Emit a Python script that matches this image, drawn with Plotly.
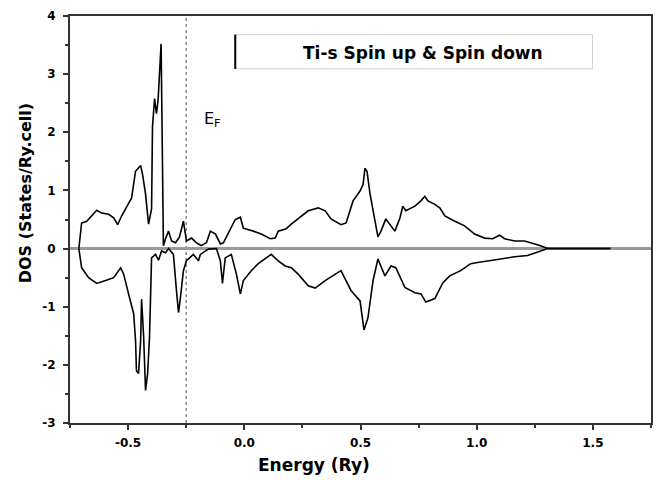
import plotly.graph_objects as go

# Ti-s partial density of states, spin up and spin down
energy_up = [-0.712, -0.700, -0.678, -0.635, -0.614, -0.584, -0.562, -0.545, -0.528, -0.498,
             -0.485, -0.468, -0.446, -0.438, -0.425, -0.412, -0.399, -0.395, -0.386, -0.378,
             -0.371, -0.358, -0.354, -0.348, -0.339, -0.326, -0.313, -0.296, -0.279, -0.262,
             -0.249, -0.227, -0.206, -0.185, -0.163, -0.146, -0.124, -0.103, -0.090, -0.056,
             -0.039, -0.017, -0.004, 0.039, 0.073, 0.112, 0.133, 0.146, 0.180, 0.202,
             0.232, 0.275, 0.318, 0.348, 0.373, 0.416, 0.438, 0.468, 0.498, 0.511,
             0.519, 0.528, 0.541, 0.562, 0.575, 0.588, 0.609, 0.631, 0.648, 0.670,
             0.682, 0.695, 0.734, 0.760, 0.777, 0.790, 0.820, 0.841, 0.863, 0.906,
             0.948, 0.991, 1.034, 1.069, 1.099, 1.120, 1.163, 1.206, 1.232, 1.275,
             1.305, 1.433, 1.575]
dos_up = [0.00, 0.44, 0.47, 0.66, 0.61, 0.59, 0.53, 0.41, 0.56, 0.76,
          0.87, 1.33, 1.43, 1.28, 0.94, 0.42, 0.68, 2.10, 2.58, 2.32,
          2.55, 3.52, 2.06, 0.05, 0.17, 0.30, 0.13, 0.10, 0.20, 0.47,
          0.13, 0.18, 0.10, 0.05, 0.10, 0.30, 0.25, 0.08, 0.10, 0.35,
          0.50, 0.54, 0.35, 0.30, 0.25, 0.17, 0.18, 0.30, 0.34, 0.42,
          0.51, 0.65, 0.70, 0.65, 0.51, 0.41, 0.44, 0.82, 0.99, 1.10,
          1.38, 1.33, 0.94, 0.47, 0.20, 0.30, 0.51, 0.39, 0.30, 0.53,
          0.73, 0.65, 0.73, 0.82, 0.90, 0.82, 0.76, 0.70, 0.56, 0.47,
          0.39, 0.25, 0.18, 0.17, 0.23, 0.17, 0.13, 0.13, 0.10, 0.05,
          0.00, 0.00, 0.00]

energy_dn = [-0.712, -0.700, -0.670, -0.635, -0.597, -0.562, -0.532, -0.519, -0.498, -0.476,
             -0.468, -0.464, -0.455, -0.446, -0.442, -0.433, -0.425, -0.416, -0.408, -0.399,
             -0.382, -0.369, -0.356, -0.339, -0.326, -0.305, -0.292, -0.283, -0.275, -0.262,
             -0.249, -0.219, -0.197, -0.189, -0.155, -0.120, -0.103, -0.094, -0.082, -0.056,
             -0.034, -0.017, -0.004, 0.030, 0.060, 0.116, 0.146, 0.176, 0.202, 0.232,
             0.275, 0.305, 0.348, 0.416, 0.459, 0.498, 0.515, 0.532, 0.554, 0.575,
             0.605, 0.631, 0.652, 0.691, 0.734, 0.760, 0.781, 0.820, 0.854, 0.884,
             0.931, 0.974, 1.004, 1.060, 1.103, 1.163, 1.219, 1.275, 1.305, 1.433,
             1.575]
dos_dn = [0.00, -0.33, -0.50, -0.60, -0.55, -0.50, -0.33, -0.44, -0.78, -1.12,
          -1.58, -2.10, -2.15, -1.58, -0.87, -1.53, -2.44, -2.15, -1.53, -0.16,
          -0.10, -0.20, -0.04, -0.07, 0.00, -0.10, -0.72, -1.10, -0.85, -0.38,
          -0.21, -0.10, -0.21, -0.10, -0.01, 0.00, -0.21, -0.60, -0.16, -0.10,
          -0.44, -0.78, -0.55, -0.38, -0.26, -0.10, -0.21, -0.30, -0.33, -0.44,
          -0.64, -0.68, -0.55, -0.38, -0.72, -0.90, -1.40, -1.19, -0.55, -0.18,
          -0.47, -0.30, -0.33, -0.67, -0.76, -0.78, -0.92, -0.86, -0.59, -0.47,
          -0.38, -0.26, -0.24, -0.21, -0.18, -0.14, -0.12, -0.04, 0.00, 0.00,
          0.00]

fermi_level = -0.25
x_range = [-0.75, 1.75]
y_range = [-3, 4]
x_ticks = [-0.5, 0.0, 0.5, 1.0, 1.5]
x_tick_text = ["-0.5", "0.0", "0.5", "1.0", "1.5"]
y_ticks = [-3, -2, -1, 0, 1, 2, 3, 4]

FONT = "DejaVu Sans, Verdana, sans-serif"

fig = go.Figure()

# zero reference line
fig.add_shape(type="line", xref="x", yref="y", x0=x_range[0], x1=x_range[1], y0=0, y1=0,
              line=dict(color="#9a9a9a", width=3), layer="below")
# Fermi level
fig.add_shape(type="line", xref="x", yref="paper", x0=fermi_level, x1=fermi_level, y0=0, y1=1,
              line=dict(color="#8a8a8a", width=1.5, dash="dot"), layer="below")

fig.add_trace(go.Scatter(x=energy_up, y=dos_up, mode="lines",
                         line=dict(color="black", width=1.6), showlegend=False))
fig.add_trace(go.Scatter(x=energy_dn, y=dos_dn, mode="lines",
                         line=dict(color="black", width=1.6), showlegend=False))

# label box
fig.add_shape(type="rect", xref="x", yref="y", x0=-0.039, x1=1.498, y0=3.09, y1=3.68,
              line=dict(color="#d0d0d0", width=1))
fig.add_shape(type="line", xref="x", yref="y", x0=-0.039, x1=-0.039, y0=3.09, y1=3.68,
              line=dict(color="black", width=2))
fig.add_annotation(x=0.77, y=3.36, xref="x", yref="y", showarrow=False,
                   text="<b>Ti-s Spin up &amp; Spin down</b>",
                   font=dict(family=FONT, size=17, color="black"))
fig.add_annotation(x=-0.18, y=2.22, xref="x", yref="y", showarrow=False, xanchor="left",
                   text="E<sub>F</sub>",
                   font=dict(family=FONT, size=16, color="black"))

# axis titles
title_font = dict(family=FONT, size=16, color="black")
fig.add_annotation(x=0.42, y=-0.103, xref="paper", yref="paper", showarrow=False,
                   xanchor="center", yanchor="middle",
                   text="<b>Energy (Ry)</b>", font=dict(family=FONT, size=17, color="black"))
fig.add_annotation(x=-0.077, y=0.565, xref="paper", yref="paper", showarrow=False,
                   xanchor="center", yanchor="middle",
                   textangle=-90, text="<b>DOS (States/Ry.cell)</b>", font=title_font)

axis_font = dict(family=FONT, size=12, color="black")
fig.update_xaxes(range=x_range, tickvals=x_ticks, ticktext=[f"<b>{t}</b>" for t in x_tick_text],
                 ticks="outside", ticklen=5, tickwidth=1.5, tickcolor="#333",
                 minor=dict(dtick=0.25, tick0=-0.75, ticks="outside", ticklen=3, tickcolor="#333"),
                 showline=True, linecolor="#333", linewidth=2, mirror=True,
                 showgrid=False, zeroline=False, tickfont=axis_font, ticklabelstandoff=3)
fig.update_yaxes(range=y_range, tickvals=y_ticks, ticktext=[f"<b>{t}</b>" for t in y_ticks],
                 ticks="outside", ticklen=5, tickwidth=1.5, tickcolor="#333",
                 minor=dict(dtick=0.5, tick0=0, ticks="outside", ticklen=3, tickcolor="#333"),
                 showline=True, linecolor="#333", linewidth=2, mirror=True,
                 showgrid=False, zeroline=False, tickfont=axis_font, ticklabelstandoff=5)

fig.update_layout(width=662, height=480, plot_bgcolor="white", paper_bgcolor="white",
                  margin=dict(l=70, r=9, t=14, b=57))

fig.write_html("out.html")
